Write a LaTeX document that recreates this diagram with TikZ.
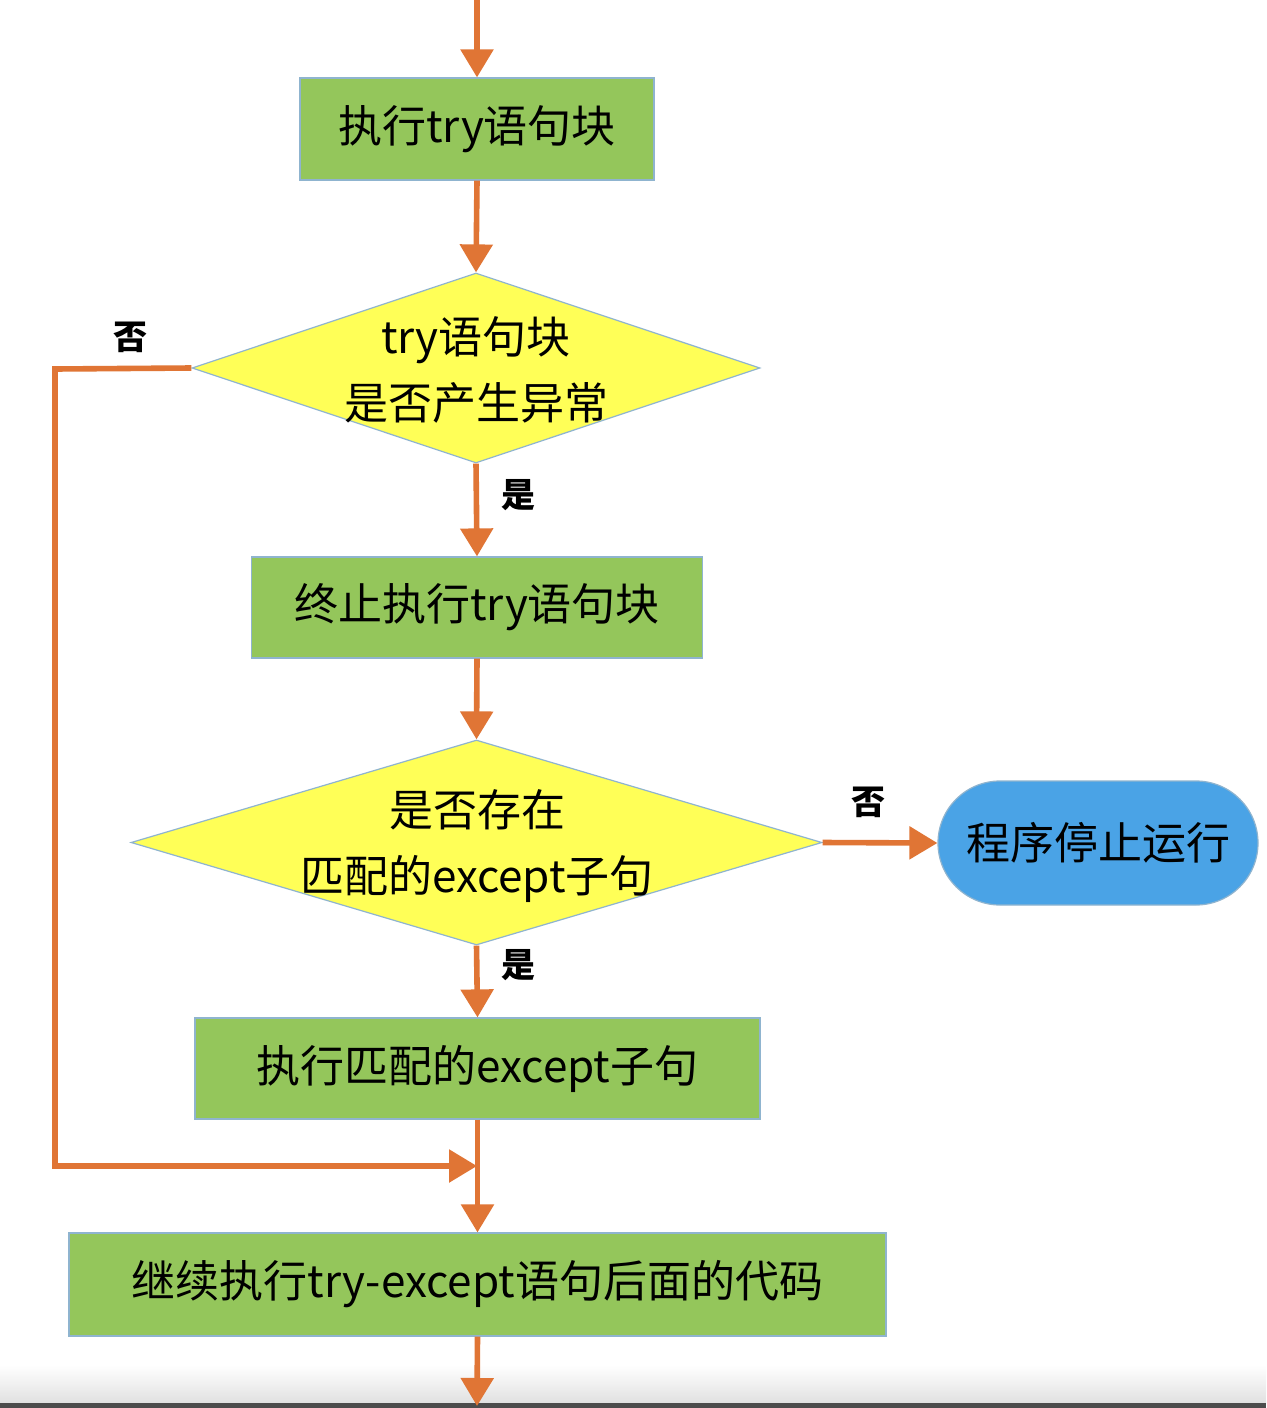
\documentclass[tikz,border=0pt]{standalone}
\usepackage{fontspec}
\setmainfont{Noto Sans CJK SC}
\usetikzlibrary{arrows.meta,shapes.geometric}
\definecolor{boxgreen}{HTML}{94C65B}
\definecolor{dyellow}{HTML}{FFFF57}
\definecolor{sblue}{HTML}{4AA3E6}
\definecolor{arrorange}{HTML}{E07535}
\definecolor{edgeblue}{HTML}{8FB4CF}
\begin{document}
\begin{tikzpicture}[x=0.5pt,y=-0.5pt,
  procbox/.style={draw=edgeblue,line width=0.6pt,fill=boxgreen,rectangle,inner sep=0pt,
    font=\fontsize{22}{33}\selectfont,text=black},
  decbox/.style={draw=edgeblue,line width=0.6pt,fill=dyellow,diamond,inner sep=0pt},
  dectext/.style={font=\fontsize{22}{33}\selectfont,align=center,text=black},
  termbox/.style={draw=edgeblue,line width=0.6pt,fill=sblue,rectangle,rounded corners=31pt,inner sep=0pt,
    font=\fontsize{22}{33}\selectfont,text=black},
  flow/.style={draw=arrorange,line width=2.8pt,-{Triangle[length=14pt,width=16pt]}},
  yn/.style={font=\bfseries\fontsize{17}{20}\selectfont,text=black}
]
\useasboundingbox (0,0) rectangle (1266,1408);
\fill[white] (0,0) rectangle (1266,1408);
\shade[top color=white,bottom color=black!12] (0,1365) rectangle (1266,1403);
\fill[black!70] (0,1403) rectangle (1266,1408);

\coordinate (start) at (477,0);
\node[procbox,minimum width=177pt,minimum height=51pt] (b1) at (477,129) {执行try语句块};
\node[decbox,minimum width=284pt,minimum height=95pt] (d1) at (476,368) {};
\node[dectext] (t1) at (476,370) {try语句块\\是否产生异常};
\node[procbox,minimum width=225.5pt,minimum height=50.5pt] (b2) at (477,607.5) {终止执行try语句块};
\node[decbox,minimum width=345.5pt,minimum height=102.5pt] (d2) at (476.5,842.5) {};
\node[dectext] (t2) at (477,846) {是否存在\\匹配的except子句};
\node[termbox,minimum width=160pt,minimum height=62pt] (stop) at (1098,843) {程序停止运行};
\node[procbox,minimum width=282.5pt,minimum height=50.5pt] (b3) at (477.5,1068.5) {执行匹配的except子句};
\node[procbox,minimum width=408.5pt,minimum height=51.5pt] (b4) at (477.5,1284.5) {继续执行try-except语句后面的代码};
\coordinate (join) at (477,1166);
\coordinate (corner) at (55,369);
\coordinate (finish) at (477,1406);

\node[yn] (no1) at (130,337) {否};
\node[yn] (yes1) at (518,495) {是};
\node[yn] (no2) at (868,802) {否};
\node[yn] (yes2) at (518,965) {是};

\draw[flow] (start) -- (b1.north);
\draw[flow] (b1.south) -- (d1.north);
\draw[flow] (d1.south) -- (b2.north);
\draw[flow] (b2.south) -- (d2.north);
\draw[flow] (d2.east) -- (stop.west);
\draw[flow] (d2.south) -- (b3.north);
\draw[flow] (b3.south) -- (b4.north);
\draw[flow] (d1.west) -- (corner) |- (join);
\draw[flow] (b4.south) -- (finish);
\end{tikzpicture}
\end{document}
